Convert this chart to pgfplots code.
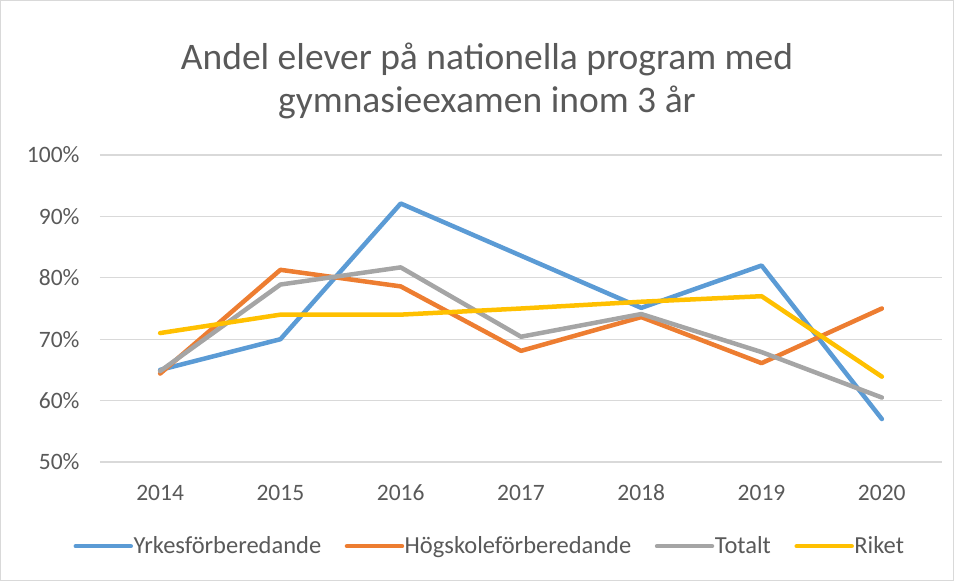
\documentclass[border=0pt]{standalone}
\usepackage{pgfplots}
\pgfplotsset{compat=1.18}
\usepackage{fontspec}
\setmainfont{Carlito}
\definecolor{txt}{HTML}{595959}
\definecolor{gridc}{HTML}{D9D9D9}
\definecolor{cblue}{HTML}{5B9BD5}
\definecolor{corange}{HTML}{ED7D31}
\definecolor{cgray}{HTML}{A5A5A5}
\definecolor{cyellow}{HTML}{FFC000}
\begin{document}
\begin{tikzpicture}
\begin{axis}[
  scale only axis,
  width=842pt, height=307pt,
  xmin=2013.5, xmax=2020.5,
  ymin=50, ymax=100,
  xtick={2014,...,2020},
  ytick={50,60,...,100},
  x tick label style={/pgf/number format/1000 sep={}, anchor=base, yshift=-38pt},
  yticklabel={\pgfmathprintnumber{\tick}\%},
  y tick label style={xshift=-17pt},
  /pgf/number format/assume math mode=true,
  ticklabel style={font=\fontsize{23.5}{28}\selectfont, text=txt},
  axis line style={draw=none},
  tick style={draw=none},
  ymajorgrids,
  grid style={color=gridc, line width=1.3pt},
  clip=false,
  every axis plot/.append style={line width=4.5pt, line cap=round, line join=round, no markers},
  legend columns=4,
  legend style={at={(0.462,-0.274)}, anchor=center, draw=none, fill=none,
    font=\fontsize{24.5}{28}\selectfont, text=txt,
    nodes={inner xsep=0.5pt},
    /tikz/every even column/.append style={column sep=23pt}},
  legend image code/.code={\draw[#1, line width=4.5pt, line cap=round] (0pt,0pt) -- (55pt,0pt);},
]
\addplot[cblue] coordinates {
(2014,65.0) (2015,70.0) (2016,92.1) (2017,83.6) (2018,75.1) (2019,82.0) (2020,57.0)
};
\addlegendentry{Yrkesförberedande}
\addplot[corange] coordinates {
(2014,64.4) (2015,81.3) (2016,78.6) (2017,68.1) (2018,73.6) (2019,66.1) (2020,75.0)
};
\addlegendentry{Högskoleförberedande}
\addplot[cgray] coordinates {
(2014,64.8) (2015,78.9) (2016,81.7) (2017,70.4) (2018,74.1) (2019,67.9) (2020,60.5)
};
\addlegendentry{Totalt}
\addplot[cyellow] coordinates {
(2014,71.0) (2015,74.0) (2016,74.0) (2017,75.0) (2018,76.1) (2019,77.0) (2020,63.9)
};
\addlegendentry{Riket}
\node[font=\fontsize{37.5}{43}\selectfont, text=txt, align=center]
  at ([yshift=74pt]rel axis cs:0.4596,1)
  {Andel elever på nationella program med\\gymnasieexamen inom 3 år};
\draw[gridc, line width=1pt] ([xshift=-99.5pt,yshift=-118.5pt]rel axis cs:0,0)
  rectangle ([xshift=11.5pt,yshift=154.5pt]rel axis cs:1,1);
\end{axis}
\end{tikzpicture}
\end{document}
